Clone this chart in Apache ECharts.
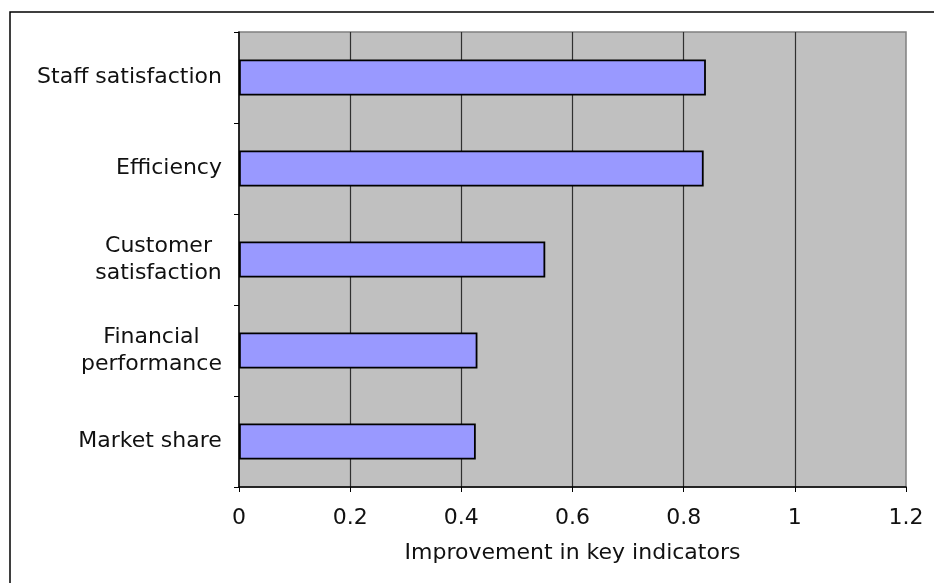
<!DOCTYPE html>
<html>
<head>
<meta charset="utf-8">
<script src="https://cdn.jsdelivr.net/npm/echarts@6/dist/echarts.min.js"></script>
<style>
  html, body { margin: 0; padding: 0; background: #ffffff; }
  #chart { width: 934px; height: 583px; }
</style>
</head>
<body>
<div id="chart"></div>
<script>
// Key indicators (top to bottom) and their improvement scores
const categories = [
  'Staff satisfaction',
  'Efficiency',
  'Customer\nsatisfaction',
  'Financial\nperformance',
  'Market share'
];
const improvement = [0.840, 0.836, 0.551, 0.429, 0.426];
const xTicks = [0, 0.2, 0.4, 0.6, 0.8, 1, 1.2];
const xAxisTitle = 'Improvement in key indicators';

const FONT = '"DejaVu Sans", Verdana, sans-serif';
const FONT_SIZE = 22;
const TEXT_COLOR = '#111';

// Multi-line labels: lines are centred within the block, block is right-aligned
const measureCtx = document.createElement('canvas').getContext('2d');
measureCtx.font = FONT_SIZE + 'px ' + FONT;
const rich = {};
categories.forEach((c, i) => {
  const lines = c.split('\n');
  const w = Math.max(...lines.map(l => measureCtx.measureText(l).width));
  rich['c' + i] = { width: Math.ceil(w), align: 'center', fontFamily: FONT, fontSize: FONT_SIZE, color: TEXT_COLOR, lineHeight: 27 };
});

const chart = echarts.init(document.getElementById('chart'));
chart.setOption({
  animation: false,
  graphic: [{
    type: 'rect',
    shape: { x: 10, y: 12, width: 1000, height: 1000 },
    style: { fill: 'none', stroke: '#000', lineWidth: 1.5 },
    z: 0
  }],
  grid: {
    left: 239, right: 28, top: 32, bottom: 96,
    show: true,
    backgroundColor: '#c0c0c0',
    borderColor: '#808080',
    borderWidth: 1.5
  },
  xAxis: {
    type: 'value',
    min: 0, max: 1.2, interval: 0.2,
    name: xAxisTitle,
    nameLocation: 'middle',
    nameGap: 55,
    nameTextStyle: { fontFamily: FONT, fontSize: FONT_SIZE, color: TEXT_COLOR },
    axisLine: { show: true, lineStyle: { color: '#000', width: 1.5 } },
    axisTick: { show: true, length: 5, lineStyle: { color: '#000' } },
    axisLabel: {
      margin: 20,
      fontFamily: FONT, fontSize: FONT_SIZE, color: TEXT_COLOR,
      formatter: v => {
        const hit = xTicks.find(t => Math.abs(t - v) < 1e-9);
        return hit === undefined ? '' : String(hit);
      }
    },
    splitLine: { show: true, showMaxLine: false, showMinLine: false, lineStyle: { color: '#303030', width: 1.2 } }
  },
  yAxis: {
    type: 'category',
    data: categories,
    inverse: true,
    axisLine: { show: true, lineStyle: { color: '#000', width: 1.5 } },
    axisTick: { show: true, length: 5, lineStyle: { color: '#000' } },
    axisLabel: {
      margin: 17,
      fontFamily: FONT, fontSize: FONT_SIZE, color: TEXT_COLOR, lineHeight: 27,
      formatter: (v, i) => v.split('\n').map(l => '{c' + i + '|' + l + '}').join('\n'),
      rich: rich
    },
    splitLine: { show: false }
  },
  series: [{
    type: 'bar',
    data: improvement,
    barWidth: 36,
    itemStyle: { color: '#9999ff', borderColor: '#000', borderWidth: 1.8 }
  }]
});
</script>
</body>
</html>
